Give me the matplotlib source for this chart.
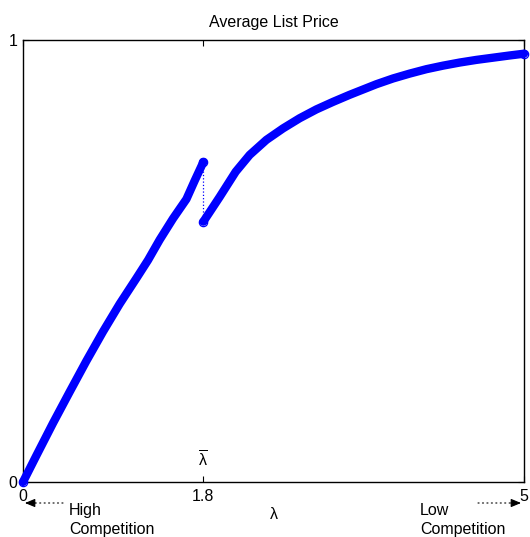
import matplotlib
matplotlib.use("Agg")
import matplotlib.pyplot as plt

plt.rcParams['font.family'] = ['Liberation Sans', 'DejaVu Sans']
plt.rcParams['mathtext.fontset'] = 'custom'
plt.rcParams['mathtext.rm'] = 'Liberation Sans'
plt.rcParams['mathtext.it'] = 'Liberation Sans'

# data
lam_low = [0, 0.134, 0.299, 0.466, 0.633, 0.798, 0.965, 1.132, 1.248, 1.364,
           1.497, 1.631, 1.714, 1.8]
price_low = [0, 0.060, 0.133, 0.204, 0.274, 0.340, 0.403, 0.461, 0.502, 0.548,
             0.596, 0.640, 0.682, 0.724]
lam_high = [1.8, 1.963, 2.123, 2.262, 2.429, 2.595, 2.761, 2.928, 3.094, 3.260,
            3.427, 3.527, 3.693, 3.859, 4.026, 4.192, 4.358, 4.525, 4.691,
            4.857, 5.0]
price_high = [0.589, 0.645, 0.702, 0.740, 0.774, 0.800, 0.823, 0.843, 0.860,
              0.876, 0.891, 0.900, 0.913, 0.924, 0.934, 0.942, 0.949, 0.955,
              0.960, 0.965, 0.969]
lam_bar = 1.8
xticks = [0, 1.8, 5]
xticklabels = ['0', '1.8', '5']
yticks = [0, 1]
yticklabels = ['0', '1']

FS = 11.5
W, H = 530, 537
fig = plt.figure(figsize=(W / 100, H / 100), dpi=100)
ax = fig.add_axes([23 / W, 55 / H, 501 / W, 442 / H])

blue = '#0000ff'
for xs, ys in [(lam_low, price_low), (lam_high, price_high)]:
    ax.plot(xs, ys, '-', color=blue, lw=6.0, solid_capstyle='round',
            solid_joinstyle='round', clip_on=False, zorder=3)
    ax.plot([xs[0], xs[-1]], [ys[0], ys[-1]], 'o', mfc='none', mec=blue,
            ms=6.0, mew=0.9, clip_on=False, zorder=4)

ax.plot([lam_bar, lam_bar], [price_high[0], price_low[-1]], ':', color=blue,
        lw=0.9, zorder=2)

ax.set_xlim(0, 5)
ax.set_ylim(0, 1)
ax.set_xticks(xticks)
ax.set_xticklabels(xticklabels)
ax.set_yticks(yticks)
ax.set_yticklabels(yticklabels)
ax.tick_params(direction='in', length=4, width=0.8, top=True, right=True,
               labelsize=FS, colors='black')
ax.tick_params(axis='x', pad=5)
ax.tick_params(axis='y', pad=4)
for s in ax.spines.values():
    s.set_linewidth(1.0)

ax.set_title('Average List Price', fontsize=FS, pad=9)
ax.set_xlabel('λ', fontsize=FS, labelpad=2)

ax.text(lam_bar, 0.049, r'$\overline{\mathrm{\lambda}}$', fontsize=FS,
        ha='center', va='center')

# competition arrows (figure pixel coordinates)
def fp(x, y):
    return (x, H - y)

for tail, tip in [((63, 503), (25, 503)), ((478, 503), (521, 503))]:
    ax.annotate('', xy=fp(*tip), xytext=fp(*tail), xycoords='figure pixels',
                textcoords='figure pixels',
                arrowprops=dict(arrowstyle='-', linestyle=(0, (1, 3)), lw=0.8,
                                color='black', shrinkA=0, shrinkB=0))
    dx = 10 if tip[0] > tail[0] else -10
    ax.annotate('', xy=fp(*tip), xytext=fp(tip[0] - dx, tip[1]),
                xycoords='figure pixels', textcoords='figure pixels',
                arrowprops=dict(arrowstyle='-|>,head_length=0.6,head_width=0.25',
                                lw=0.8, color='black', shrinkA=0, shrinkB=0))

fig.text(69 / W, 1 - 520 / H, 'High\nCompetition', fontsize=FS, ha='left',
         va='center', linespacing=1.3)
fig.text(420 / W, 1 - 520 / H, 'Low\nCompetition', fontsize=FS, ha='left',
         va='center', linespacing=1.3)

fig.savefig('out.png', dpi=100)
